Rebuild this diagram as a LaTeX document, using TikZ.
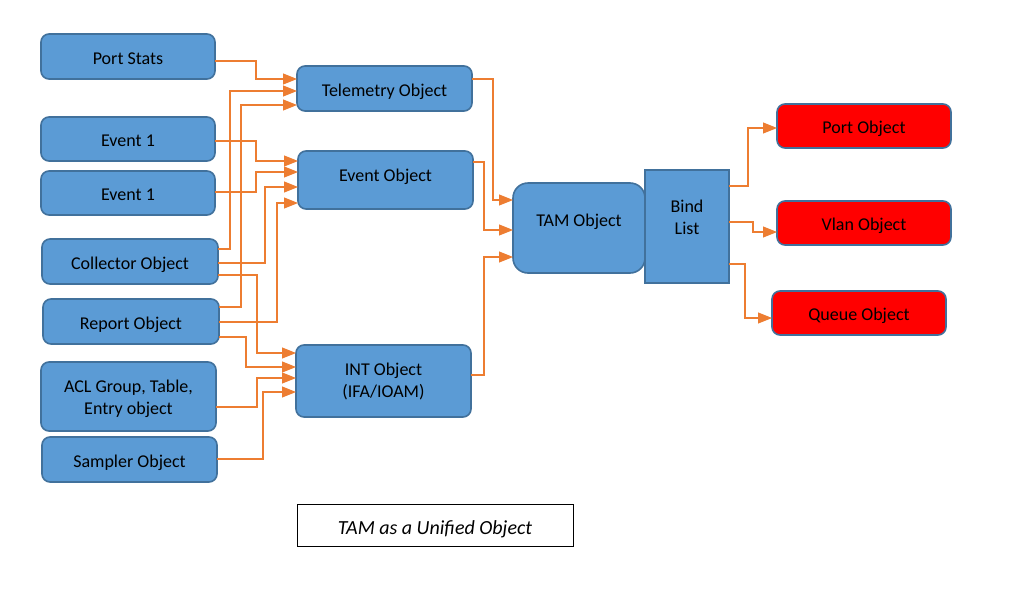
\documentclass[tikz,border=0pt]{standalone}
\usepackage{fontspec}
\setmainfont{Carlito}
\usetikzlibrary{arrows.meta}
\definecolor{boxblue}{HTML}{5B9BD5}
\definecolor{edgeblue}{HTML}{41719C}
\definecolor{conorange}{HTML}{ED7D31}
\definecolor{objred}{HTML}{FF0000}
\newcommand{\twolines}[3]{\raisebox{#1}[\height][\depth]{\begin{tabular}{@{}c@{}}#2\\#3\end{tabular}}}
\tikzset{
  struts/.style={execute at begin node={\rule{0pt}{19.2pt}}, execute at end node={\rule[-4pt]{0pt}{4pt}}},
  box/.style={draw=edgeblue, line width=1.6pt, fill=boxblue, rounded corners=8pt,
    inner sep=0pt, outer sep=0pt, align=center, font=\fontsize{18}{22}\selectfont, text=black, struts},
  redbox/.style={box, fill=objred},
  bindbox/.style={box, rounded corners=0pt},
  capbox/.style={draw=black, line width=0.9pt, fill=white, inner sep=0pt, outer sep=0pt,
    font=\fontsize{20}{24}\selectfont\itshape,
    execute at begin node={\rule{0pt}{22pt}}, execute at end node={\rule[-4pt]{0pt}{4pt}}},
  conn/.style={draw=conorange, line width=1.05pt, -{Triangle[length=14pt,width=11pt]}}
}
\begin{document}
\begin{tikzpicture}[x=1pt,y=-1pt]
\useasboundingbox[fill=white] (0,0) rectangle (1024,597);
% left column
\node[box, minimum width=174pt, minimum height=45pt] (ps) at (128,56.5) {Port Stats};
\node[box, minimum width=174pt, minimum height=44pt] (ev1) at (128,139) {Event 1};
\node[box, minimum width=174pt, minimum height=44pt] (ev2) at (128,193) {Event 1};
\node[box, minimum width=176pt, minimum height=45pt] (coll) at (130,261.5) {Collector Object};
\node[box, minimum width=176pt, minimum height=45pt] (rep) at (131,321.5) {Report Object};
\node[box, minimum width=175pt, minimum height=69pt] (acl) at (128.5,396.5) {\twolines{-2.5pt}{ACL Group, Table,}{Entry object}};
\node[box, minimum width=175pt, minimum height=45pt] (samp) at (129.5,459.5) {Sampler Object};
% middle column
\node[box, minimum width=175pt, minimum height=45pt] (tel) at (384.5,88.5) {Telemetry Object};
\node[box, minimum width=175pt, minimum height=58pt] (evo) at (385.5,180) {\raisebox{6pt}[\height][\depth]{Event Object}};
\node[box, minimum width=175pt, minimum height=72pt] (int) at (383.5,381) {\twolines{-1pt}{INT Object}{(IFA/IOAM)}};
% TAM and bind list
\node[box, rounded corners=15pt, minimum width=132pt, minimum height=90pt] (tam) at (579,228) {\raisebox{9pt}[\height][\depth]{TAM Object}};
\node[bindbox, minimum width=84pt, minimum height=113pt] (bind) at (687,226.5) {\twolines{7.5pt}{Bind}{List}};
% right column
\node[redbox, minimum width=174pt, minimum height=44pt] (port) at (864,126) {Port Object};
\node[redbox, minimum width=174pt, minimum height=44pt] (vlan) at (864,223) {Vlan Object};
\node[redbox, minimum width=174pt, minimum height=44pt] (queue) at (859,313) {Queue Object};
% caption
\node[capbox, minimum width=276pt, minimum height=42pt] (cap) at (435,525) {TAM as a Unified Object};
% connectors into Telemetry Object
\draw[conn] (ps.east |- 0,61) -| (256,79) -- (tel.west |- 0,79);
\draw[conn] (coll.east |- 0,249) -| (230,91) -- (tel.west |- 0,91);
\draw[conn] (rep.east |- 0,307) -| (241,105) -- (tel.west |- 0,105);
% connectors into Event Object
\draw[conn] (ev1.east |- 0,141) -| (256,161) -- (evo.west |- 0,161);
\draw[conn] (ev2.east |- 0,192) -| (256,172) -- (evo.west |- 0,172);
\draw[conn] (coll.east |- 0,263) -| (265,187) -- (evo.west |- 0,187);
\draw[conn] (rep.east |- 0,322) -| (277,203) -- (evo.west |- 0,203);
% connectors into INT Object
\draw[conn] (coll.east |- 0,275) -| (257,353) -- (int.west |- 0,353);
\draw[conn] (rep.east |- 0,337) -| (246,367) -- (int.west |- 0,367);
\draw[conn] (acl.east |- 0,407) -| (257,378) -- (int.west |- 0,378);
\draw[conn] (samp.east |- 0,459) -| (263,392) -- (int.west |- 0,392);
% connectors into TAM Object
\draw[conn] (tel.east |- 0,79) -| (493,200) -- (tam.west |- 0,200);
\draw[conn] (evo.east |- 0,162) -| (484,230) -- (tam.west |- 0,230);
\draw[conn] (int.east |- 0,375) -| (484,257) -- (tam.west |- 0,257);
% connectors out of Bind List
\draw[conn] (bind.east |- 0,186) -| (748,128) -- (port.west |- 0,128);
\draw[conn] (bind.east |- 0,222) -| (753,232) -- (vlan.west |- 0,232);
\draw[conn] (bind.east |- 0,264) -| (745,318) -- (queue.west |- 0,318);
\end{tikzpicture}
\end{document}
